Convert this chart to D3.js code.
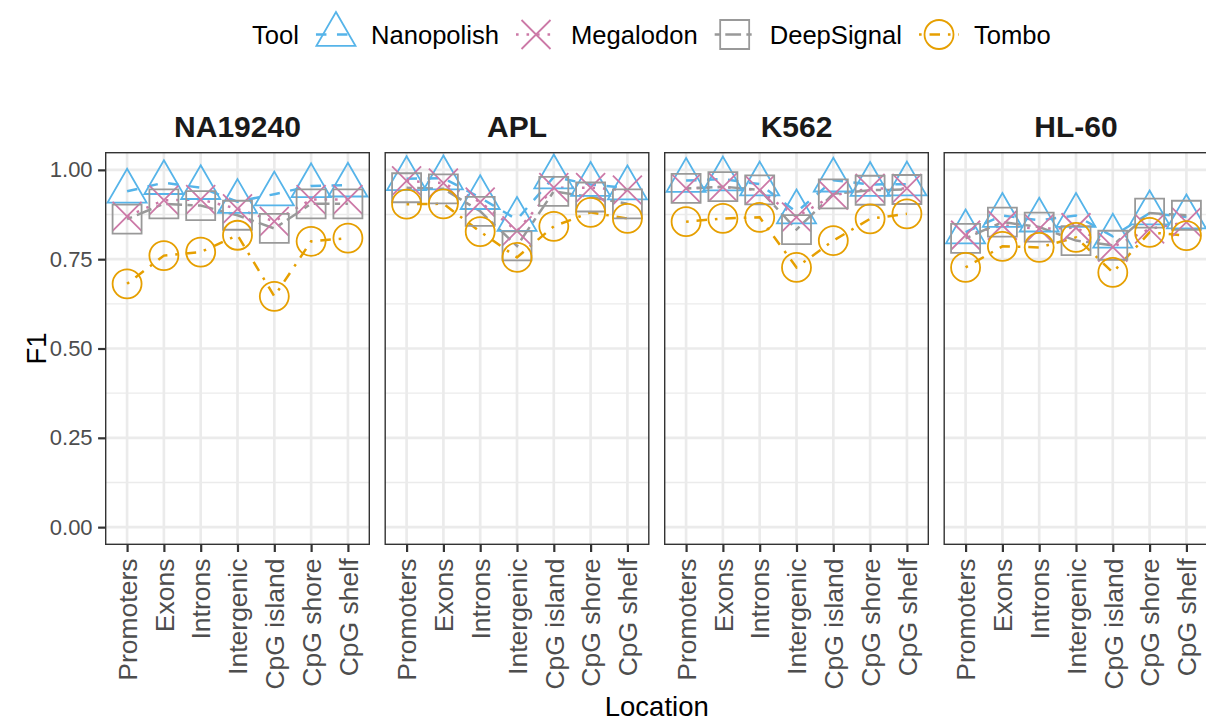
<!DOCTYPE html>
<html><head><meta charset="utf-8">
<script src="https://cdn.jsdelivr.net/npm/d3@7"></script>
<style>body{margin:0;background:#fff} svg{display:block}</style>
</head><body><svg id="c" width="1206" height="722"></svg>
<script>
// ---------- data ----------
const cellLines = ["NA19240", "APL", "K562", "HL-60"];
const locations = ["Promoters", "Exons", "Introns", "Intergenic", "CpG island", "CpG shore", "CpG shelf"];
const tools = ["Nanopolish", "Megalodon", "DeepSignal", "Tombo"];
const yTicks = [0, 0.25, 0.5, 0.75, 1];
const yTickLabels = ["0.00", "0.25", "0.50", "0.75", "1.00"];
const yMinor = [0.125, 0.375, 0.625, 0.875];

// F1 per location, one row of 7 per cell line (NA19240, APL, K562, HL-60)
const nanopolishF1 = [
  0.940, 0.964, 0.950, 0.911, 0.932, 0.955, 0.957,
  0.975, 0.977, 0.922, 0.861, 0.980, 0.959, 0.949,
  0.970, 0.974, 0.960, 0.882, 0.971, 0.959, 0.960,
  0.826, 0.872, 0.859, 0.872, 0.814, 0.879, 0.868];
const megalodonF1 = [
  0.870, 0.915, 0.917, 0.891, 0.856, 0.917, 0.917,
  0.969, 0.963, 0.910, 0.829, 0.950, 0.950, 0.943,
  0.948, 0.952, 0.943, 0.868, 0.929, 0.948, 0.948,
  0.817, 0.845, 0.835, 0.838, 0.784, 0.835, 0.854];
const deepsignalF1 = [
  0.862, 0.905, 0.900, 0.873, 0.836, 0.905, 0.905,
  0.950, 0.947, 0.884, 0.787, 0.940, 0.924, 0.905,
  0.948, 0.953, 0.944, 0.833, 0.933, 0.943, 0.945,
  0.808, 0.854, 0.840, 0.802, 0.789, 0.879, 0.873];
const tomboF1 = [
  0.681, 0.760, 0.770, 0.817, 0.646, 0.800, 0.809,
  0.904, 0.905, 0.827, 0.755, 0.842, 0.881, 0.864,
  0.855, 0.864, 0.867, 0.727, 0.802, 0.863, 0.877,
  0.727, 0.786, 0.783, 0.811, 0.713, 0.825, 0.816];

const toolValues = [nanopolishF1, megalodonF1, deepsignalF1, tomboF1];
const toolColors = ["#56B4E9", "#CC79A7", "#999999", "#E69F00"];
const toolDash = ["10.5,10.5", "2.6,7.9", "5.3,5.3,15.8,5.3", "2.6,7.9,10.5,7.9"];

// ---------- layout ----------
const FONT = "'Liberation Sans', Arial, Helvetica, sans-serif";
const panelW = 265, gap = 14.5, left0 = 105, panelTop = 152, panelBottom = 545;
const svg = d3.select("#c");

const facetX = d3.scaleBand().domain(cellLines)
  .range([left0, left0 + 4 * panelW + 3 * gap])
  .paddingInner(gap / (panelW + gap)).paddingOuter(0);
const x = d3.scalePoint().domain(locations).range([0, facetX.bandwidth()]).padding(0.6);
const y = d3.scaleLinear().domain([-0.05, 1.05]).range([panelBottom, panelTop]);

// symbol shapes (R pch 2, 4, 0, 1)
const RB = 14.5;
const shapeTypes = [
  { draw(ctx, s) { const r = 1.5551 * s, xc = 1.3468 * s, yc = 0.7776 * s;
      ctx.moveTo(0, -r); ctx.lineTo(xc, yc); ctx.lineTo(-xc, yc); ctx.closePath(); } },
  { draw(ctx, s) { ctx.moveTo(-s, -s); ctx.lineTo(s, s); ctx.moveTo(s, -s); ctx.lineTo(-s, s); } },
  { draw(ctx, s) { ctx.rect(-s, -s, 2 * s, 2 * s); } },
  { draw(ctx, s) { ctx.moveTo(s, 0); ctx.arc(0, 0, s, 0, 2 * Math.PI); ctx.closePath(); } }
];
const symbolPath = i => d3.symbol().type(shapeTypes[i]).size(RB)();

// ---------- panels ----------
cellLines.forEach((cl, ci) => {
  const g = svg.append("g").attr("transform", `translate(${facetX(cl)},0)`);
  const clipId = "clip" + ci;
  g.append("clipPath").attr("id", clipId).append("rect")
    .attr("x", 0).attr("y", panelTop).attr("width", facetX.bandwidth()).attr("height", panelBottom - panelTop);
  const inner = g.append("g").attr("clip-path", `url(#${clipId})`);

  inner.selectAll(".minor").data(yMinor).join("line")
    .attr("x1", 0).attr("x2", facetX.bandwidth())
    .attr("y1", d => y(d)).attr("y2", d => y(d))
    .attr("stroke", "#EBEBEB").attr("stroke-width", 1.33);
  inner.selectAll(".majorY").data(yTicks).join("line")
    .attr("x1", 0).attr("x2", facetX.bandwidth())
    .attr("y1", d => y(d)).attr("y2", d => y(d))
    .attr("stroke", "#EBEBEB").attr("stroke-width", 2.67);
  inner.selectAll(".majorX").data(locations).join("line")
    .attr("x1", d => x(d)).attr("x2", d => x(d))
    .attr("y1", panelTop).attr("y2", panelBottom)
    .attr("stroke", "#EBEBEB").attr("stroke-width", 2.67);

  // lines
  tools.forEach((t, ti) => {
    const vals = toolValues[ti].slice(ci * 7, ci * 7 + 7);
    const pts = locations.map((loc, li) => [x(loc), y(vals[li])]);
    inner.append("path").attr("d", d3.line()(pts))
      .attr("fill", "none").attr("stroke", toolColors[ti])
      .attr("stroke-width", 2.5).attr("stroke-dasharray", toolDash[ti]);
  });
  // points
  tools.forEach((t, ti) => {
    const vals = toolValues[ti].slice(ci * 7, ci * 7 + 7);
    inner.selectAll(null).data(locations).join("path")
      .attr("transform", (loc, li) => `translate(${x(loc)},${y(vals[li])})`)
      .attr("d", symbolPath(ti))
      .attr("fill", "none").attr("stroke", toolColors[ti]).attr("stroke-width", 1.8);
  });

  // border
  g.append("rect").attr("x", 0.7).attr("y", panelTop + 0.7)
    .attr("width", facetX.bandwidth() - 1.4).attr("height", panelBottom - panelTop - 1.4)
    .attr("fill", "none").attr("stroke", "#333333").attr("stroke-width", 1.4);

  // strip title
  g.append("text").attr("x", facetX.bandwidth() / 2).attr("y", 136.5)
    .attr("text-anchor", "middle").attr("font-family", FONT)
    .attr("font-weight", "bold").attr("font-size", 30).attr("fill", "#1A1A1A").text(cl);

  // x axis
  const xAxis = d3.axisBottom(x).tickSize(7).tickPadding(6);
  const ax = g.append("g").attr("transform", `translate(0,${panelBottom})`).call(xAxis);
  ax.select(".domain").remove();
  ax.selectAll(".tick line").attr("stroke", "#333333").attr("stroke-width", 2.2);
  ax.selectAll(".tick text")
    .attr("font-family", FONT).attr("font-size", 26.5).attr("fill", "#4D4D4D")
    .attr("transform", "rotate(-90)")
    .attr("x", -(7 + 6.5)).attr("y", 0).attr("dy", "0.35em")
    .attr("text-anchor", "end");

  // y axis on first panel
  if (ci === 0) {
    const yAxis = d3.axisLeft(y).tickValues(yTicks)
      .tickFormat((d, i) => yTickLabels[i]).tickSize(6.9).tickPadding(5.5);
    const ay = g.append("g").call(yAxis);
    ay.select(".domain").remove();
    ay.selectAll(".tick line").attr("stroke", "#333333").attr("stroke-width", 2.2);
    ay.selectAll(".tick text").attr("font-family", FONT).attr("font-size", 22).attr("fill", "#4D4D4D");
  }
});

// axis titles
svg.append("text").attr("x", (left0 + 1208.5) / 2).attr("y", 716)
  .attr("text-anchor", "middle").attr("font-family", FONT).attr("font-size", 27.5)
  .attr("fill", "#000").text("Location");
svg.append("text").attr("transform", `translate(36,${(panelTop + panelBottom) / 2}) rotate(-90)`)
  .attr("text-anchor", "middle").attr("dy", "0.35em").attr("font-family", FONT).attr("font-size", 27.5)
  .attr("fill", "#000").text("F1");

// ---------- legend ----------
const leg = svg.append("g");
const legY = 34.5, legFont = 25.6;
let cx = 252;
const title = leg.append("text").attr("x", cx).attr("y", legY).attr("dy", "0.37em")
  .attr("font-family", FONT).attr("font-size", legFont).attr("fill", "#000").text("Tool");
cx += title.node().getComputedTextLength();
tools.forEach((t, ti) => {
  const kc = cx + 37;
  leg.append("line").attr("x1", kc - 20).attr("x2", kc + 20).attr("y1", legY).attr("y2", legY)
    .attr("stroke", toolColors[ti]).attr("stroke-width", 2.5).attr("stroke-dasharray", toolDash[ti]);
  leg.append("path").attr("transform", `translate(${kc},${legY})`).attr("d", symbolPath(ti))
    .attr("fill", "none").attr("stroke", toolColors[ti]).attr("stroke-width", 1.8);
  const tx = leg.append("text").attr("x", kc + 35).attr("y", legY).attr("dy", "0.37em")
    .attr("font-family", FONT).attr("font-size", legFont).attr("fill", "#000").text(t);
  cx = kc + 35 + tx.node().getComputedTextLength();
});
</script>
</body></html>
